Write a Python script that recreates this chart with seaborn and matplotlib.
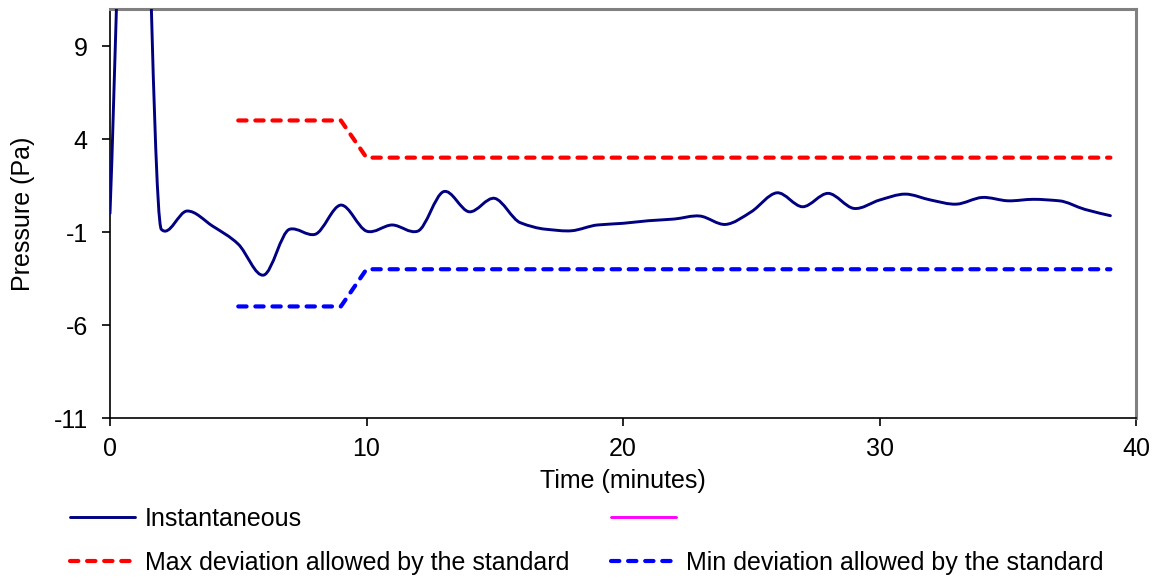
import matplotlib
matplotlib.use("Agg")
import matplotlib.pyplot as plt
from matplotlib.path import Path
from matplotlib.patches import PathPatch
from matplotlib.lines import Line2D
import numpy as np
import pandas as pd
import seaborn as sns

# Pressure log, one reading per minute
minutes = [0, 1, 2, 3, 4, 5, 6, 7, 8, 9,
           10, 11, 12, 13, 14, 15, 16, 17, 18, 19,
           20, 21, 22, 23, 24, 25, 26, 27, 28, 29,
           30, 31, 32, 33, 34, 35, 36, 37, 38, 39]
instantaneous = [0.0, 34.0, -0.85, 0.13, -0.68, -1.65, -3.31, -0.85, -1.12, 0.45,
                 -0.95, -0.62, -0.95, 1.17, 0.09, 0.81, -0.50, -0.85, -0.93, -0.62,
                 -0.53, -0.39, -0.30, -0.14, -0.59, 0.09, 1.11, 0.36, 1.08, 0.27,
                 0.72, 1.04, 0.72, 0.50, 0.86, 0.68, 0.76, 0.68, 0.22, -0.12]

# Tolerance band of the standard
limit_minutes = [5, 6, 7, 8, 9, 10, 11, 12, 13, 14, 15, 16, 17, 18, 19, 20, 21, 22,
                 23, 24, 25, 26, 27, 28, 29, 30, 31, 32, 33, 34, 35, 36, 37, 38, 39]
max_deviation = [5, 5, 5, 5, 5, 3, 3, 3, 3, 3, 3, 3, 3, 3, 3, 3, 3, 3,
                 3, 3, 3, 3, 3, 3, 3, 3, 3, 3, 3, 3, 3, 3, 3, 3, 3]
min_deviation = [-5, -5, -5, -5, -5, -3, -3, -3, -3, -3, -3, -3, -3, -3, -3, -3, -3, -3,
                 -3, -3, -3, -3, -3, -3, -3, -3, -3, -3, -3, -3, -3, -3, -3, -3, -3]

x_ticks = [0, 10, 20, 30, 40]
y_ticks = [9, 4, -1, -6, -11]

NAVY = "#000080"
RED = "#FF0000"
BLUE = "#0000FF"
MAGENTA = "#FF00FF"
DASH = (0, (2.0, 2.1))
DASH_LW = 3.0
SOLID_LW = 2.1
FS = 18

sns.set_theme(style="white")
plt.rcParams["font.family"] = ["Liberation Sans", "DejaVu Sans"]
plt.rcParams["axes.unicode_minus"] = False
plt.rcParams["text.color"] = "black"
plt.rcParams["axes.labelcolor"] = "black"

fig = plt.figure(figsize=(11.59, 5.79), dpi=100)
ax = fig.add_axes([0.0949, 0.278, 0.8853, 0.7067])

limits = pd.DataFrame({"minute": limit_minutes, "max": max_deviation, "min": min_deviation})
sns.lineplot(data=limits, x="minute", y="max", ax=ax, color=RED, linewidth=DASH_LW,
             linestyle=DASH, dash_capstyle="round")
sns.lineplot(data=limits, x="minute", y="min", ax=ax, color=BLUE, linewidth=DASH_LW,
             linestyle=DASH, dash_capstyle="round")

# Smoothed reading curve: cubic Bezier segments through each reading,
# with tangents limited next to steep jumps to avoid overshoot
x = np.asarray(minutes, float)
y = np.asarray(instantaneous, float)
n = len(x)
d = np.diff(y) / np.diff(x)
m = np.zeros(n)
m[1:-1] = (y[2:] - y[:-2]) / (x[2:] - x[:-2])
lim = 1.5 * np.minimum(np.abs(d[:-1]), np.abs(d[1:]))
m[1:-1] = np.clip(m[1:-1], -lim, lim)

verts = [(x[0], y[0])]
codes = [Path.MOVETO]
for i in range(n - 1):
    h = x[i + 1] - x[i]
    if i == 0:
        c1 = (x[0] + h / 6.0, y[0] + (y[1] - y[0]) / 6.0)
    else:
        c1 = (x[i] + h / 3.0, y[i] + m[i] * h / 3.0)
    if i == n - 2:
        c2 = (x[i + 1] - h / 6.0, y[i + 1] - (y[i + 1] - y[i]) / 6.0)
    else:
        c2 = (x[i + 1] - h / 3.0, y[i + 1] - m[i + 1] * h / 3.0)
    verts += [c1, c2, (x[i + 1], y[i + 1])]
    codes += [Path.CURVE4] * 3
ax.add_patch(PathPatch(Path(verts, codes), fill=False, edgecolor=NAVY,
                       linewidth=SOLID_LW, capstyle="round", joinstyle="round", zorder=3))

ax.set_xlim(0, 40)
ax.set_ylim(-11, 11)
ax.set_xticks(x_ticks)
ax.set_yticks(y_ticks)
ax.tick_params(axis="both", direction="out", length=6, width=1.2, colors="black",
               labelsize=FS, left=True, bottom=True)
ax.tick_params(axis="y", pad=10)
ax.tick_params(axis="x", pad=8)
ax.set_xlabel("Time (minutes)", fontsize=FS, color="black")
ax.set_ylabel("Pressure (Pa)", fontsize=FS, color="black")
ax.xaxis.set_label_coords(0.5, -0.125)
ax.yaxis.set_label_coords(-0.073, 0.5)

for side in ("left", "bottom"):
    ax.spines[side].set_color("black")
    ax.spines[side].set_linewidth(1.2)
for side in ("top", "right"):
    ax.spines[side].set_color("#808080")
    ax.spines[side].set_linewidth(2.2)

handles = [
    Line2D([], [], color=NAVY, linewidth=SOLID_LW),
    Line2D([], [], color=RED, linewidth=DASH_LW, linestyle=DASH, dash_capstyle="round"),
    Line2D([], [], color=MAGENTA, linewidth=SOLID_LW),
    Line2D([], [], color=BLUE, linewidth=DASH_LW, linestyle=DASH, dash_capstyle="round"),
]
labels = ["Instantaneous", "Max deviation allowed by the standard", "",
          "Min deviation allowed by the standard"]
fig.legend(handles, labels, ncol=2, loc="upper left", bbox_to_anchor=(0.0604, 0.1244),
           frameon=False, fontsize=FS, handlelength=2.6, handletextpad=0.4,
           columnspacing=1.65, labelspacing=0.8, borderpad=0, borderaxespad=0,
           labelcolor="black")

fig.savefig("out.png", dpi=100)
